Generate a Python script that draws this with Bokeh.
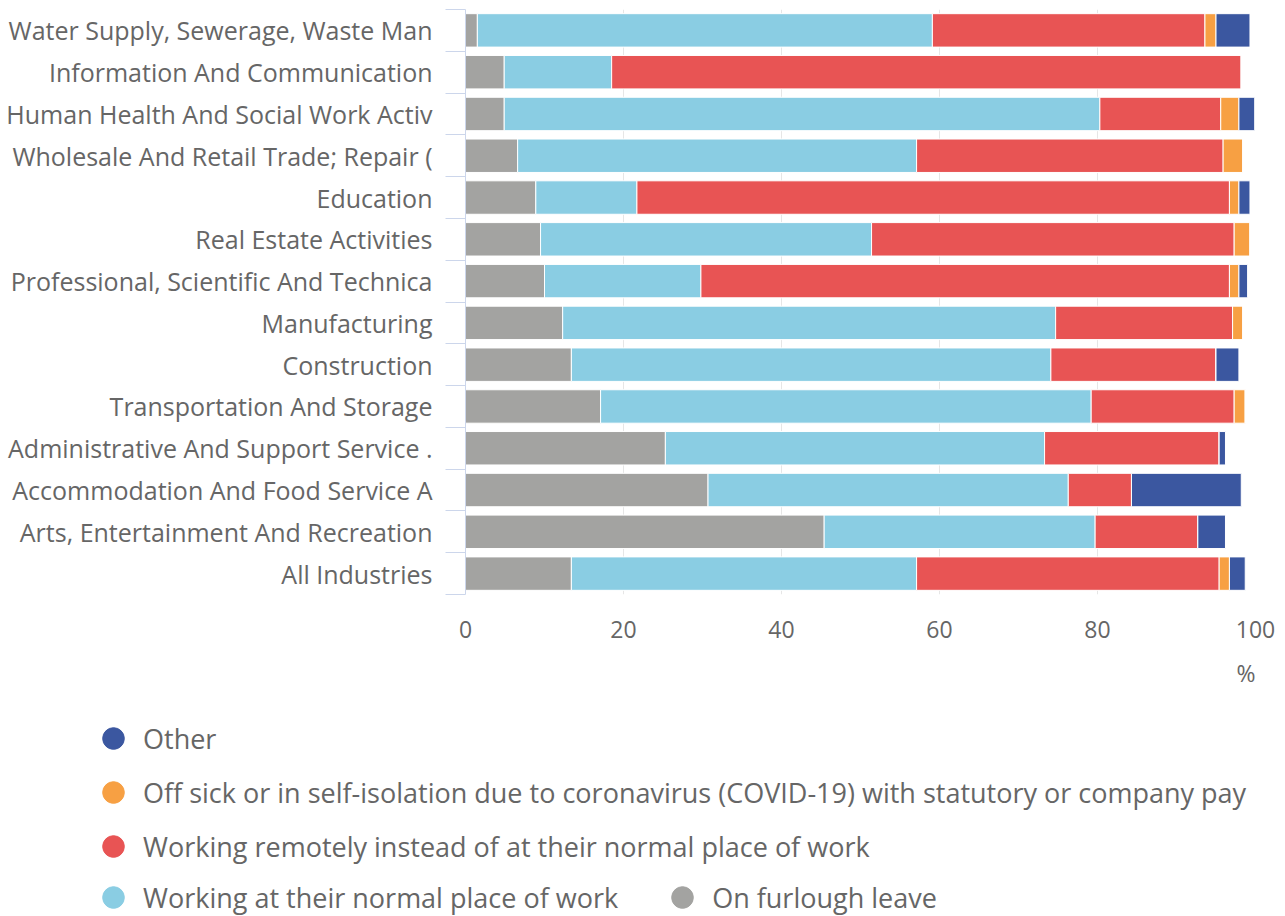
from bokeh.plotting import figure
from bokeh.models import FixedTicker, Legend, LegendItem, Title, Range1d
from bokeh.embed import file_html
from bokeh.resources import INLINE

categories = [
    "Water Supply, Sewerage, Waste Man",
    "Information And Communication",
    "Human Health And Social Work Activ",
    "Wholesale And Retail Trade; Repair (",
    "Education",
    "Real Estate Activities",
    "Professional, Scientific And Technica",
    "Manufacturing",
    "Construction",
    "Transportation And Storage",
    "Administrative And Support Service .",
    "Accommodation And Food Service A",
    "Arts, Entertainment And Recreation",
    "All Industries",
]

furlough = [1.5, 4.9, 4.9, 6.6, 8.9, 9.5, 10.0, 12.3, 13.4, 17.1, 25.3, 30.7, 45.4, 13.4]
normal = [57.6, 13.6, 75.4, 50.5, 12.8, 41.9, 19.8, 62.4, 60.7, 62.1, 48.0, 45.6, 34.3, 43.7]
remote = [34.5, 79.7, 15.3, 38.8, 75.0, 45.9, 66.9, 22.4, 20.9, 18.1, 22.1, 8.0, 13.0, 38.3]
sick = [1.4, 0.0, 2.3, 2.5, 1.2, 2.0, 1.2, 1.3, 0.0, 1.4, 0.0, 0.0, 0.0, 1.3]
other = [4.3, 0.0, 2.0, 0.0, 1.4, 0.0, 1.1, 0.0, 2.9, 0.0, 0.8, 13.9, 3.5, 2.0]

series_names = [
    "On furlough leave",
    "Working at their normal place of work",
    "Working remotely instead of at their normal place of work",
    "Off sick or in self-isolation due to coronavirus (COVID-19) with statutory or company pay",
    "Other",
]
series_keys = ["furlough", "normal", "remote", "sick", "other"]
colors = ["#a3a3a1", "#8acde3", "#e85454", "#f7a043", "#3b57a0"]
x_ticks = [0, 20, 40, 60, 80, 100]

n = len(categories)
ypos = [n - 1 - i + 0.5 for i in range(n)]

data = dict(y=ypos, furlough=furlough, normal=normal, remote=remote, sick=sick, other=other)

FONT = "Open Sans"
TEXT = "#666666"

W, H1, H2 = 1280, 700, 216
p = figure(
    width=W, height=H1,
    x_range=Range1d(0, 100), y_range=Range1d(0, n),
    output_backend="svg", toolbar_location=None,
    min_border_left=465, min_border_right=W - 1255, min_border_top=9, min_border_bottom=H1 - 594,
)
p.outline_line_color = None
p.background_fill_color = "white"

renderers = p.hbar_stack(series_keys, y="y", height=0.8, color=colors,
                         line_color="white", line_width=1, source=data)

# y axis
yax = p.yaxis[0]
yax.ticker = FixedTicker(ticks=ypos, minor_ticks=list(range(n + 1)))
yax.major_label_overrides = {y: c for y, c in zip(ypos, categories)}
yax.major_tick_line_color = None
yax.major_tick_out = 0
yax.major_tick_in = 0
yax.minor_tick_line_color = "#ccd6eb"
yax.minor_tick_out = 20
yax.minor_tick_in = 0
yax.axis_line_color = "#ccd6eb"
yax.major_label_standoff = 13
yax.major_label_text_font = FONT
yax.major_label_text_font_size = "25px"
yax.major_label_text_color = TEXT

# x axis
xax = p.xaxis[0]
xax.ticker = FixedTicker(ticks=x_ticks)
xax.axis_line_color = None
xax.major_tick_line_color = None
xax.minor_tick_line_color = None
xax.major_label_standoff = 20
xax.major_label_text_font = FONT
xax.major_label_text_font_size = "23px"
xax.major_label_text_color = TEXT

# small spacer, then the unit label at the right
p.add_layout(Title(text=" ", text_font_size="7px", standoff=0), "below")
p.add_layout(Title(text="%", align="right", text_font=FONT, text_font_size="23px",
                   text_color=TEXT, text_font_style="normal"), "below")

p.xgrid.grid_line_color = "#e6e6e6"
p.xgrid.grid_line_width = 1
p.ygrid.grid_line_color = None

# legend figure (separate root, full-width frame)
lg = figure(
    width=W, height=H2, x_range=Range1d(0, W), y_range=Range1d(0, H2),
    output_backend="svg", toolbar_location=None,
    min_border=0, min_border_left=0, min_border_right=0, min_border_top=0, min_border_bottom=0,
)
lg.axis.visible = False
lg.grid.visible = False
lg.outline_line_color = None

dots = {}
for key, col in zip(series_keys, colors):
    dots[key] = lg.scatter(x=[-500], y=[-500], marker="circle", color=col, line_color=col, size=20)

common = dict(glyph_width=56, glyph_height=54, label_standoff=2,
              padding=0, margin=0, border_line_color=None, background_fill_alpha=0,
              label_text_font=FONT, label_text_font_size="27px", label_text_color=TEXT)

leg1 = Legend(
    items=[LegendItem(label=series_names[4], renderers=[dots["other"]]),
           LegendItem(label=series_names[3], renderers=[dots["sick"]]),
           LegendItem(label=series_names[2], renderers=[dots["remote"]])],
    orientation="vertical", location=(85, 43), spacing=0, **common,
)
leg2 = Legend(
    items=[LegendItem(label=series_names[1], renderers=[dots["normal"]]),
           LegendItem(label=series_names[0], renderers=[dots["furlough"]])],
    orientation="horizontal", location=(85, -8), spacing=36, **common,
)
lg.add_layout(leg1, "center")
lg.add_layout(leg2, "center")

open("out.html", "w").write(file_html([p, lg], INLINE))
